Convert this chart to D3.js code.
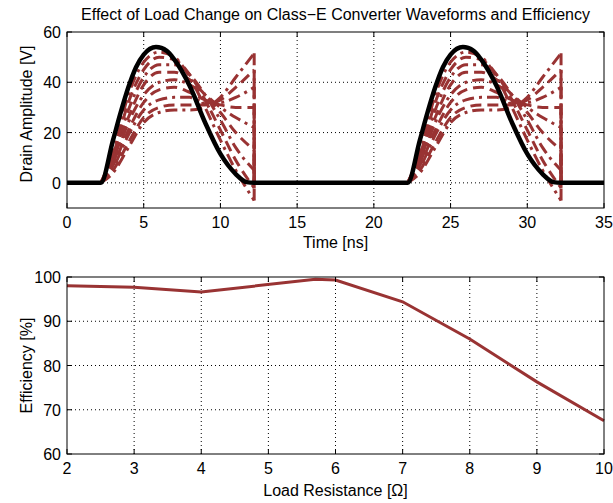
<!DOCTYPE html>
<html>
<head>
<meta charset="utf-8">
<script src="https://cdn.jsdelivr.net/npm/d3@7"></script>
<style>
  body { margin: 0; background: #fff; }
  text { font-family: "Liberation Sans", Arial, sans-serif; fill: #000; }
</style>
</head>
<body>
<div id="chart"></div>
<script>
// Waveform data (one switching period, repeated every 20 ns)
var periodStarts = [0, 20];
var nominalTime = [2.2, 3, 3.5, 4, 4.5, 5, 5.8, 6.5, 7, 8, 9, 10, 11, 11.7, 12.2];
var nominalWave = [0, 17, 28, 38, 46, 51, 54, 52.5, 49, 38.5, 24, 11.5, 3.5, 0.3, 0];

var pulseTime = [2.2, 3, 4, 5, 6, 7, 8, 9, 10, 11, 12.2];
var loadWaves = [
  [0, 12, 35, 48, 52, 50, 42, 30, 17, 5, -7],
  [0, 11, 32, 45, 50, 49, 43, 33, 21, 9, -2],
  [0, 10, 29, 42, 47, 47, 43, 35, 25, 14, 5],
  [0, 9, 26, 39, 44, 44, 41, 35, 28, 20, 13],
  [0, 8, 24, 35, 40, 41, 39, 35, 30, 26, 22],
  [0, 7, 21, 32, 37, 38, 36, 33, 31, 30, 30],
  [0, 6, 19, 29, 33, 34, 34, 32, 32, 34, 38],
  [0, 5, 16, 26, 30, 31, 31, 31, 33, 38, 45],
  [0, 4, 14, 24, 28, 29, 29, 30, 34, 42, 51.5]
];

// Efficiency data
var loadResistance = [2, 3, 4, 5.7, 6, 7, 8, 9, 10];
var efficiency = [98, 97.7, 96.6, 99.5, 99.3, 94.4, 86, 76.3, 67.5];

var timeTicks = [0, 5, 10, 15, 20, 25, 30, 35];
var voltTicks = [0, 20, 40, 60];
var resTicks = [2, 3, 4, 5, 6, 7, 8, 9, 10];
var effTicks = [60, 70, 80, 90, 100];

var lineRed = "#993333";
var W = 613, H = 503;

var svg = d3.select("#chart")
  .append("svg")
  .attr("width", W)
  .attr("height", H);

// dotted grid, MATLAB style
function drawGrid(g, x, y, xTicks, yTicks, w, h) {
  g.selectAll(".gx").data(xTicks.filter(d => x(d) > 1 && x(d) < w - 1)).enter()
    .append("line")
    .attr("x1", d => x(d)).attr("x2", d => x(d))
    .attr("y1", 0).attr("y2", h)
    .attr("stroke", "#000").attr("stroke-width", 1)
    .attr("stroke-dasharray", "1,3");
  g.selectAll(".gy").data(yTicks.filter(d => y(d) > 1 && y(d) < h - 1)).enter()
    .append("line")
    .attr("y1", d => y(d)).attr("y2", d => y(d))
    .attr("x1", 0).attr("x2", w)
    .attr("stroke", "#000").attr("stroke-width", 1)
    .attr("stroke-dasharray", "1,3");
}

// box + inward ticks + tick labels
function drawFrame(g, x, y, xTicks, yTicks, w, h) {
  g.append("rect")
    .attr("x", 0).attr("y", 0).attr("width", w).attr("height", h)
    .attr("fill", "none").attr("stroke", "#000").attr("stroke-width", 1);

  var tl = 5;
  xTicks.forEach(function (d) {
    g.append("line").attr("x1", x(d)).attr("x2", x(d)).attr("y1", h).attr("y2", h - tl).attr("stroke", "#000");
    g.append("line").attr("x1", x(d)).attr("x2", x(d)).attr("y1", 0).attr("y2", tl).attr("stroke", "#000");
    g.append("text").attr("x", x(d)).attr("y", h + 20)
      .attr("text-anchor", "middle").style("font-size", "16px").text(d);
  });
  yTicks.forEach(function (d) {
    g.append("line").attr("y1", y(d)).attr("y2", y(d)).attr("x1", 0).attr("x2", tl).attr("stroke", "#000");
    g.append("line").attr("y1", y(d)).attr("y2", y(d)).attr("x1", w).attr("x2", w - tl).attr("stroke", "#000");
    g.append("text").attr("x", -6).attr("y", y(d) + 6)
      .attr("text-anchor", "end").style("font-size", "16px").text(d);
  });
}

// ---------- Top subplot ----------
var upper = { left: 67, top: 32, width: 537, height: 176 };
var gTop = svg.append("g").attr("transform", "translate(" + upper.left + "," + upper.top + ")");

var xTime = d3.scaleLinear().domain([0, 35]).range([0, upper.width]);
var yVolt = d3.scaleLinear().domain([-10, 60]).range([upper.height, 0]);

drawGrid(gTop, xTime, yVolt, timeTicks, voltTicks, upper.width, upper.height);

svg.append("defs").append("clipPath").attr("id", "clipTop")
  .append("rect").attr("x", 0).attr("y", 0).attr("width", upper.width).attr("height", upper.height);

var plotTop = gTop.append("g").attr("clip-path", "url(#clipTop)");

var smooth = d3.line()
  .x(d => xTime(d[0]))
  .y(d => yVolt(d[1]))
  .curve(d3.curveMonotoneX);

var straight = d3.line()
  .x(d => xTime(d[0]))
  .y(d => yVolt(d[1]));

var dashStyles = ["12,5,3,5", "11,6", "12,5,3,5", "11,6", "12,5,3,5", "11,6", "12,5,3,5", "11,6", "12,5,3,5"];

periodStarts.forEach(function (p0) {
  loadWaves.forEach(function (wave, i) {
    var pts = pulseTime.map((t, k) => [t + p0, wave[k]]);
    plotTop.append("path")
      .attr("d", smooth(pts))
      .attr("fill", "none")
      .attr("stroke", lineRed)
      .attr("stroke-width", 3)
      .attr("stroke-dasharray", dashStyles[i]);
    var tEnd = pulseTime[pulseTime.length - 1] + p0;
    plotTop.append("path")
      .attr("d", straight([[tEnd, wave[wave.length - 1]], [tEnd, 0]]))
      .attr("fill", "none")
      .attr("stroke", lineRed)
      .attr("stroke-width", 3)
      .attr("stroke-dasharray", dashStyles[i]);
  });
});

// nominal (black) waveform
var nominalPts = [[0, 0]];
periodStarts.forEach(function (p0) {
  nominalTime.forEach((t, k) => nominalPts.push([t + p0, nominalWave[k]]));
});
nominalPts.push([35, 0]);

plotTop.append("path")
  .attr("d", smooth(nominalPts))
  .attr("fill", "none")
  .attr("stroke", "#000")
  .attr("stroke-width", 4.5);

drawFrame(gTop, xTime, yVolt, timeTicks, voltTicks, upper.width, upper.height);

gTop.append("text")
  .attr("x", upper.width / 2).attr("y", upper.height + 40)
  .attr("text-anchor", "middle").style("font-size", "16px")
  .text("Time [ns]");

gTop.append("text")
  .attr("transform", "translate(-35," + (upper.height / 2 - 6) + ") rotate(-90)")
  .attr("text-anchor", "middle").style("font-size", "16px")
  .text("Drain Amplitude [V]");

svg.append("text")
  .attr("x", upper.left + upper.width / 2).attr("y", 20)
  .attr("text-anchor", "middle").style("font-size", "16px")
  .text("Effect of Load Change on Class\u2212E Converter Waveforms and Efficiency");

// ---------- Bottom subplot ----------
var lower = { left: 67, top: 277, width: 537, height: 177 };
var gBot = svg.append("g").attr("transform", "translate(" + lower.left + "," + lower.top + ")");

var xRes = d3.scaleLinear().domain([2, 10]).range([0, lower.width]);
var yEff = d3.scaleLinear().domain([60, 100]).range([lower.height, 0]);

drawGrid(gBot, xRes, yEff, resTicks, effTicks, lower.width, lower.height);

gBot.append("path")
  .datum(loadResistance.map((r, i) => [r, efficiency[i]]))
  .attr("d", d3.line().x(d => xRes(d[0])).y(d => yEff(d[1])))
  .attr("fill", "none")
  .attr("stroke", lineRed)
  .attr("stroke-width", 3);

drawFrame(gBot, xRes, yEff, resTicks, effTicks, lower.width, lower.height);

gBot.append("text")
  .attr("x", lower.width / 2).attr("y", lower.height + 42)
  .attr("text-anchor", "middle").style("font-size", "16px")
  .text("Load Resistance [\u03A9]");

gBot.append("text")
  .attr("transform", "translate(-35," + (lower.height / 2) + ") rotate(-90)")
  .attr("text-anchor", "middle").style("font-size", "16px")
  .text("Efficiency [%]");
</script>
</body>
</html>
